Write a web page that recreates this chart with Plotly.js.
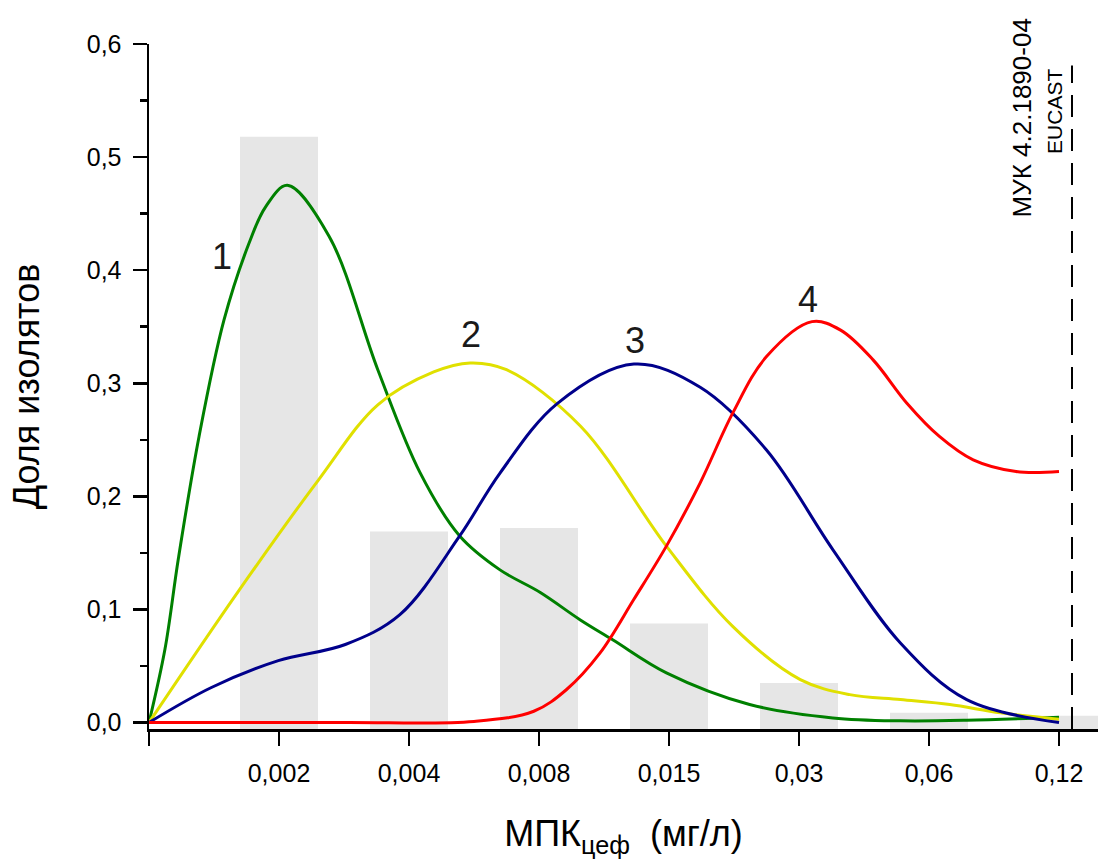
<!DOCTYPE html>
<html>
<head>
<meta charset="utf-8">
<script src="https://cdn.plot.ly/plotly-3.0.1.min.js"></script>
<style>html,body{margin:0;padding:0;background:#fff;}#chart{width:1111px;height:859px;}</style>
</head>
<body>
<div id="chart"></div>
<script>
// Category tick labels (MIC, mg/L) at positions 1..7
var tickLabels = ['0,002', '0,004', '0,008', '0,015', '0,03', '0,06', '0,12'];
// Histogram (share of isolates) at category positions 1..7
var barPos = [1, 2, 3, 4, 5, 6, 7];
var barVals = [0.518, 0.169, 0.172, 0.0875, 0.035, 0.0086, 0.006];

// Curve 1 (green)
var c1x = [0, 0.123, 0.226, 0.385, 0.577, 0.77, 0.897, 1.064, 1.385, 1.76, 2.085, 2.39, 2.70, 3.01, 3.315, 3.57, 3.98, 4.62, 5.26, 5.78, 6.29, 7.0];
var c1y = [0, 0.065, 0.145, 0.253, 0.356, 0.424, 0.456, 0.475, 0.43, 0.312, 0.221, 0.165, 0.135, 0.115, 0.091, 0.073, 0.044, 0.016, 0.0041, 0.0015, 0.002, 0.0047];
// Curve 2 (yellow)
var c2x = [0, 0.687, 1.30, 1.76, 2.19, 2.47, 2.75, 3.32, 3.98, 4.49, 5.01, 5.39, 5.78, 6.16, 6.55, 7.0];
var c2y = [0, 0.116, 0.214, 0.281, 0.310, 0.318, 0.312, 0.262, 0.156, 0.085, 0.038, 0.0247, 0.0203, 0.0159, 0.0086, 0.003];
// Curve 3 (blue)
var c3x = [0, 0.48, 0.995, 1.51, 1.93, 2.39, 2.70, 3.14, 3.73, 4.24, 4.75, 5.26, 5.78, 6.29, 7.0];
var c3y = [0, 0.031, 0.0547, 0.069, 0.0954, 0.165, 0.2206, 0.282, 0.317, 0.2965, 0.241, 0.153, 0.0704, 0.0203, 0.0];
// Curve 4 (red)
var c4x = [0, 1.5, 2.5, 2.96, 3.21, 3.47, 3.73, 3.98, 4.24, 4.49, 4.75, 5.1, 5.32, 5.57, 5.83, 6.08, 6.34, 6.67, 7.0];
var c4y = [0, 0, 0.001, 0.01, 0.029, 0.0616, 0.109, 0.156, 0.212, 0.2736, 0.3236, 0.3545, 0.347, 0.3207, 0.2824, 0.253, 0.2323, 0.222, 0.222];

// Breakpoint line position (category units) and curve labels
var breakpointX = 7.1;
var curveLabels = ['1', '2', '3', '4'];
var curveLabelX = [0.56, 2.48, 3.74, 5.07];
var curveLabelY = [0.412, 0.343, 0.338, 0.374];

var FONT = 'Arial, "Liberation Sans", sans-serif';
var yMin = -0.0057;

var traces = [{
  type: 'bar', x: barPos, y: barVals.map(function(v){return v - yMin;}), base: yMin,
  width: 0.6, marker: {color: '#e6e6e6', line: {width: 0}}, hoverinfo: 'skip'
}];
var curves = [[c1x, c1y, '#008000'], [c2x, c2y, '#e0e000'], [c3x, c3y, '#00008b'], [c4x, c4y, '#ff0000']];
curves.forEach(function(c){
  traces.push({type: 'scatter', mode: 'lines', x: c[0], y: c[1],
    line: {color: c[2], width: 3, shape: 'spline', smoothing: 1}});
});

var annotations = curveLabels.map(function(t, k){
  return {x: curveLabelX[k], y: curveLabelY[k], xref: 'x', yref: 'y', text: t, showarrow: false,
    font: {family: FONT, size: 36, color: '#1a1a1a'}};
});
annotations.push({x: 6.715, y: 0.535, xref: 'x', yref: 'y', text: 'МУК 4.2.1890-04', textangle: -90,
  showarrow: false, font: {family: FONT, size: 26, color: '#000'}});
annotations.push({x: 6.97, y: 0.54, xref: 'x', yref: 'y', text: 'EUCAST', textangle: -90,
  showarrow: false, font: {family: FONT, size: 21, color: '#000'}});

var layout = {
  width: 1111, height: 859,
  margin: {l: 149, r: 13, t: 44, b: 130},
  paper_bgcolor: '#fff', plot_bgcolor: '#fff',
  showlegend: false,
  separators: ', ',
  font: {family: FONT, color: '#000'},
  xaxis: {
    range: [0, 7.3], tickmode: 'array', tickvals: barPos, ticktext: tickLabels,
    showline: true, linecolor: '#000', linewidth: 2.5, ticks: 'outside', ticklen: 14, tickwidth: 2.5,
    tickcolor: '#000', showgrid: false, zeroline: false, tickfont: {size: 25, family: FONT},
    ticklabelstandoff: 6,
    minor: {tick0: 0, dtick: 1, ticks: 'outside', ticklen: 14, tickwidth: 2.5, tickcolor: '#000', showgrid: false},
    title: {text: 'МПК<sub>цеф</sub>  (мг/л)', font: {size: 36, family: FONT}, standoff: 42}
  },
  yaxis: {
    range: [yMin, 0.6], tick0: 0, dtick: 0.1, tickformat: '.1f',
    showline: true, linecolor: '#000', linewidth: 2.5, ticks: 'outside', ticklen: 14, tickwidth: 2.5,
    tickcolor: '#000', showgrid: false, zeroline: false, tickfont: {size: 25, family: FONT},
    ticklabelstandoff: 6,
    minor: {tick0: 0, dtick: 0.05, ticks: 'outside', ticklen: 7, tickwidth: 2.5, tickcolor: '#000', showgrid: false},
    title: {text: 'Доля изолятов', font: {size: 36, family: FONT}, standoff: 36}
  },
  shapes: [{type: 'line', xref: 'x', yref: 'y', x0: breakpointX, x1: breakpointX, y0: yMin, y1: 0.581,
    line: {color: '#000', width: 2, dash: '22px,12px'}}],
  annotations: annotations
};

Plotly.newPlot('chart', traces, layout, {displayModeBar: false, staticPlot: true});
</script>
</body>
</html>
